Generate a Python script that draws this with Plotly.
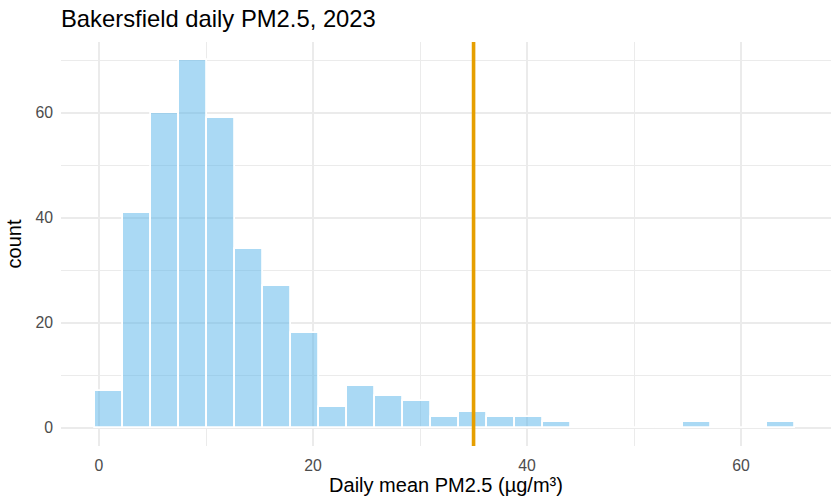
"""Histogram of Bakersfield daily mean PM2.5 for 2023."""

import numpy as np
import plotly.graph_objects as go

# Histogram bins (25 equal-width bins)
bin_left = -0.35
bin_width = 2.617
counts = [7, 41, 60, 70, 59, 34, 27, 18, 4, 8, 6, 5, 2, 3, 2, 2, 1,
          0, 0, 0, 0, 1, 0, 0, 1]

# Reference line (daily standard)
standard = 35

x_ticks = [0, 20, 40, 60]
y_ticks = [0, 20, 40, 60]

FONT = "Liberation Sans, Arial, sans-serif"
GRID = "#EBEBEB"

centers = bin_left + bin_width * (np.arange(len(counts)) + 0.5)

fig = go.Figure()

fig.add_trace(go.Bar(
    x=centers,
    y=counts,
    width=bin_width,
    marker=dict(
        color="rgba(86,180,233,0.5)",
        line=dict(color="white", width=1.8)
    ),
    hoverinfo="x+y",
    showlegend=False
))

# geom_vline equivalent, spans the whole panel
fig.add_shape(
    type="line",
    xref="x", yref="paper",
    x0=standard, x1=standard, y0=0, y1=1,
    line=dict(color="#E69F00", width=3.6),
    layer="above"
)

fig.update_layout(
    width=840,
    height=504,
    paper_bgcolor="white",
    plot_bgcolor="white",
    margin=dict(l=61, r=9, t=42, b=58),
    bargap=0,
    font=dict(family=FONT, color="black"),
    title=dict(
        text="Bakersfield daily PM2.5, 2023",
        font=dict(size=23.8, color="black"),
        x=0, xref="paper", xanchor="left",
        y=1 - 19 / 504, yref="container", yanchor="middle"
    ),
    xaxis=dict(
        range=[-3.55, 68.4],
        tickvals=x_ticks,
        ticks="",
        showline=False,
        zeroline=False,
        showgrid=True,
        gridcolor=GRID,
        gridwidth=1.9,
        minor=dict(dtick=10, tick0=0, showgrid=True,
                   gridcolor=GRID, gridwidth=0.95),
        tickfont=dict(size=15.8, color="#4D4D4D"),
        ticklabelstandoff=8,
        automargin=False,
        title=dict(text="Daily mean PM2.5 (µg/m³)",
                   font=dict(size=20, color="black"), standoff=5)
    ),
    yaxis=dict(
        range=[-3.5, 73.5],
        tickvals=y_ticks,
        ticks="",
        showline=False,
        zeroline=False,
        showgrid=True,
        gridcolor=GRID,
        gridwidth=1.9,
        minor=dict(dtick=10, tick0=0, showgrid=True,
                   gridcolor=GRID, gridwidth=0.95),
        tickfont=dict(size=15.8, color="#4D4D4D"),
        ticklabelstandoff=7,
        automargin=False,
        title=dict(text="count",
                   font=dict(size=20, color="black"), standoff=8)
    )
)

# the page's default body margin would offset the figure by 8px
fig.write_html("out.html", config={"displayModeBar": False},
               post_script="document.body.style.margin='0px';")
